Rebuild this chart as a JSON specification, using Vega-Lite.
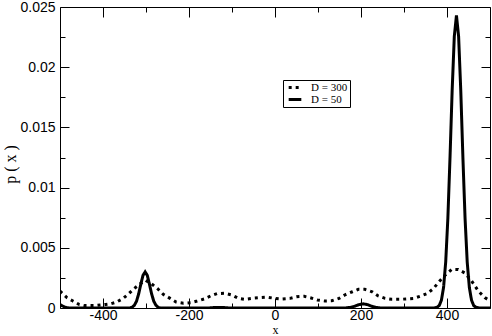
{
  "$schema": "https://vega.github.io/schema/vega-lite/v6.json",
  "width": 430,
  "height": 301,
  "autosize": {"type": "none"},
  "padding": {"left": 60, "top": 7, "right": 2, "bottom": 28},
  "background": "white",
  "config": {
    "view": {"stroke": null},
    "axis": {
      "domainColor": "black", "tickColor": "black", "labelColor": "black", "titleColor": "black",
      "grid": false, "labelFont": "Liberation Sans", "labelFontSize": 14,
      "titleFont": "Liberation Serif", "titleFontSize": 16, "titleFontWeight": "normal",
      "tickWidth": 1, "domainWidth": 1
    }
  },
  "datasets": {
    "curves": [
      {"x": -500, "p": 0.0014, "D": "D = 300"},
      {"x": -484, "p": 0.00086, "D": "D = 300"},
      {"x": -471, "p": 0.0006, "D": "D = 300"},
      {"x": -456, "p": 0.0003, "D": "D = 300"},
      {"x": -443, "p": 0.0002, "D": "D = 300"},
      {"x": -430, "p": 0.0002, "D": "D = 300"},
      {"x": -418, "p": 0.0002, "D": "D = 300"},
      {"x": -406, "p": 0.00025, "D": "D = 300"},
      {"x": -394, "p": 0.0003, "D": "D = 300"},
      {"x": -381, "p": 0.00036, "D": "D = 300"},
      {"x": -368, "p": 0.0005, "D": "D = 300"},
      {"x": -353, "p": 0.0008, "D": "D = 300"},
      {"x": -341, "p": 0.00116, "D": "D = 300"},
      {"x": -328, "p": 0.0016, "D": "D = 300"},
      {"x": -314, "p": 0.002, "D": "D = 300"},
      {"x": -301, "p": 0.0023, "D": "D = 300"},
      {"x": -287, "p": 0.002, "D": "D = 300"},
      {"x": -273, "p": 0.0016, "D": "D = 300"},
      {"x": -260, "p": 0.00114, "D": "D = 300"},
      {"x": -244, "p": 0.0008, "D": "D = 300"},
      {"x": -230, "p": 0.0005, "D": "D = 300"},
      {"x": -213, "p": 0.0004, "D": "D = 300"},
      {"x": -196, "p": 0.00044, "D": "D = 300"},
      {"x": -181, "p": 0.00058, "D": "D = 300"},
      {"x": -165, "p": 0.00075, "D": "D = 300"},
      {"x": -150, "p": 0.001, "D": "D = 300"},
      {"x": -134, "p": 0.0012, "D": "D = 300"},
      {"x": -116, "p": 0.00122, "D": "D = 300"},
      {"x": -101, "p": 0.00108, "D": "D = 300"},
      {"x": -85, "p": 0.0008, "D": "D = 300"},
      {"x": -70, "p": 0.00072, "D": "D = 300"},
      {"x": -54, "p": 0.0008, "D": "D = 300"},
      {"x": -35, "p": 0.00086, "D": "D = 300"},
      {"x": -18, "p": 0.0009, "D": "D = 300"},
      {"x": 0, "p": 0.0008, "D": "D = 300"},
      {"x": 16, "p": 0.00075, "D": "D = 300"},
      {"x": 35, "p": 0.0008, "D": "D = 300"},
      {"x": 50, "p": 0.00094, "D": "D = 300"},
      {"x": 68, "p": 0.00097, "D": "D = 300"},
      {"x": 84, "p": 0.00083, "D": "D = 300"},
      {"x": 99, "p": 0.00066, "D": "D = 300"},
      {"x": 116, "p": 0.00058, "D": "D = 300"},
      {"x": 132, "p": 0.0006, "D": "D = 300"},
      {"x": 149, "p": 0.0008, "D": "D = 300"},
      {"x": 163, "p": 0.0011, "D": "D = 300"},
      {"x": 180, "p": 0.00135, "D": "D = 300"},
      {"x": 194, "p": 0.00155, "D": "D = 300"},
      {"x": 209, "p": 0.00155, "D": "D = 300"},
      {"x": 226, "p": 0.00135, "D": "D = 300"},
      {"x": 240, "p": 0.001, "D": "D = 300"},
      {"x": 256, "p": 0.0008, "D": "D = 300"},
      {"x": 271, "p": 0.00072, "D": "D = 300"},
      {"x": 289, "p": 0.00072, "D": "D = 300"},
      {"x": 305, "p": 0.00075, "D": "D = 300"},
      {"x": 322, "p": 0.0008, "D": "D = 300"},
      {"x": 337, "p": 0.00097, "D": "D = 300"},
      {"x": 354, "p": 0.0012, "D": "D = 300"},
      {"x": 368, "p": 0.0016, "D": "D = 300"},
      {"x": 382, "p": 0.0022, "D": "D = 300"},
      {"x": 395, "p": 0.0027, "D": "D = 300"},
      {"x": 411, "p": 0.0032, "D": "D = 300"},
      {"x": 426, "p": 0.0032, "D": "D = 300"},
      {"x": 442, "p": 0.0029, "D": "D = 300"},
      {"x": 458, "p": 0.0022, "D": "D = 300"},
      {"x": 473, "p": 0.0014, "D": "D = 300"},
      {"x": 488, "p": 0.00086, "D": "D = 300"},
      {"x": 500, "p": 0.0006, "D": "D = 300"},
      {"x": -500, "p": 0.0003, "D": "D = 50"},
      {"x": -495, "p": 0.00018, "D": "D = 50"},
      {"x": -490, "p": 0.0001, "D": "D = 50"},
      {"x": -485, "p": 0.00004, "D": "D = 50"},
      {"x": -480, "p": 0.00001, "D": "D = 50"},
      {"x": -460, "p": 0, "D": "D = 50"},
      {"x": -342, "p": 0, "D": "D = 50"},
      {"x": -337, "p": 0.00001, "D": "D = 50"},
      {"x": -332, "p": 0.00007, "D": "D = 50"},
      {"x": -327, "p": 0.00023, "D": "D = 50"},
      {"x": -322, "p": 0.00057, "D": "D = 50"},
      {"x": -317, "p": 0.00118, "D": "D = 50"},
      {"x": -312, "p": 0.00198, "D": "D = 50"},
      {"x": -307, "p": 0.00271, "D": "D = 50"},
      {"x": -302, "p": 0.003, "D": "D = 50"},
      {"x": -297, "p": 0.00271, "D": "D = 50"},
      {"x": -292, "p": 0.00198, "D": "D = 50"},
      {"x": -287, "p": 0.00118, "D": "D = 50"},
      {"x": -282, "p": 0.00057, "D": "D = 50"},
      {"x": -277, "p": 0.00023, "D": "D = 50"},
      {"x": -272, "p": 0.00007, "D": "D = 50"},
      {"x": -267, "p": 0.00001, "D": "D = 50"},
      {"x": -260, "p": 0, "D": "D = 50"},
      {"x": -155, "p": 0, "D": "D = 50"},
      {"x": -145, "p": 0.00003, "D": "D = 50"},
      {"x": -130, "p": 0.00005, "D": "D = 50"},
      {"x": -115, "p": 0.00003, "D": "D = 50"},
      {"x": -105, "p": 0, "D": "D = 50"},
      {"x": 160, "p": 0, "D": "D = 50"},
      {"x": 165, "p": 0.00001, "D": "D = 50"},
      {"x": 175, "p": 0.00005, "D": "D = 50"},
      {"x": 185, "p": 0.00014, "D": "D = 50"},
      {"x": 195, "p": 0.00028, "D": "D = 50"},
      {"x": 205, "p": 0.00035, "D": "D = 50"},
      {"x": 215, "p": 0.00028, "D": "D = 50"},
      {"x": 225, "p": 0.00014, "D": "D = 50"},
      {"x": 235, "p": 0.00005, "D": "D = 50"},
      {"x": 245, "p": 0.00001, "D": "D = 50"},
      {"x": 255, "p": 0, "D": "D = 50"},
      {"x": 370, "p": 0, "D": "D = 50"},
      {"x": 377, "p": 0.00006, "D": "D = 50"},
      {"x": 382, "p": 0.00021, "D": "D = 50"},
      {"x": 387, "p": 0.00065, "D": "D = 50"},
      {"x": 392, "p": 0.0017, "D": "D = 50"},
      {"x": 397, "p": 0.00382, "D": "D = 50"},
      {"x": 402, "p": 0.00745, "D": "D = 50"},
      {"x": 407, "p": 0.01249, "D": "D = 50"},
      {"x": 412, "p": 0.01808, "D": "D = 50"},
      {"x": 417, "p": 0.02257, "D": "D = 50"},
      {"x": 422, "p": 0.0243, "D": "D = 50"},
      {"x": 427, "p": 0.02257, "D": "D = 50"},
      {"x": 432, "p": 0.01808, "D": "D = 50"},
      {"x": 437, "p": 0.01249, "D": "D = 50"},
      {"x": 442, "p": 0.00745, "D": "D = 50"},
      {"x": 447, "p": 0.00382, "D": "D = 50"},
      {"x": 452, "p": 0.0017, "D": "D = 50"},
      {"x": 457, "p": 0.00065, "D": "D = 50"},
      {"x": 462, "p": 0.00021, "D": "D = 50"},
      {"x": 467, "p": 0.00006, "D": "D = 50"},
      {"x": 475, "p": 0.00001, "D": "D = 50"},
      {"x": 485, "p": 0, "D": "D = 50"},
      {"x": 500, "p": 0, "D": "D = 50"}
    ]
  },
  "data": {"name": "curves"},
  "layer": [
    {
      "mark": {"type": "line", "color": "black", "strokeWidth": 3, "strokeCap": "butt", "clip": true},
      "encoding": {
        "x": {"field": "x", "type": "quantitative", "scale": {"domain": [-500, 500], "nice": false, "zero": false},
              "axis": {"orient": "bottom", "title": "x", "values": [-400, -200, 0, 200, 400], "tickSize": -10, "labelPadding": 10, "labelExpr": "'' + datum.value", "titleFontSize": 12, "titleBaseline": "top", "titleY": 16}},
        "y": {"field": "p", "type": "quantitative", "scale": {"domain": [0, 0.025], "nice": false},
              "axis": {"orient": "left", "title": "p ( x )", "values": [0, 0.005, 0.01, 0.015, 0.02, 0.025], "tickSize": -9, "labelPadding": 14, "labelExpr": "format(datum.value, '~g')", "titleX": -50, "titleY": 157, "titleAngle": -90, "titleAlign": "center", "titleBaseline": "middle"}},
        "strokeDash": {"field": "D", "type": "nominal",
                       "scale": {"domain": ["D = 300", "D = 50"], "range": [[3, 4], [1, 0]]},
                       "legend": {"orient": "none", "legendX": 223, "legendY": 73, "title": null, "strokeColor": "black", "padding": 2,
                                  "labelFont": "Liberation Serif", "labelFontSize": 11, "labelColor": "black", "symbolType": "stroke",
                                  "symbolStrokeWidth": 3, "symbolSize": 160, "symbolStrokeColor": "black", "rowPadding": 0, "labelOffset": 8, "symbolOffset": 2, "clipHeight": 11}}
      }
    },
    {
      "mark": {"type": "line", "strokeOpacity": 0},
      "encoding": {
        "x": {"field": "x", "type": "quantitative", "axis": {"orient": "top", "title": null, "labels": false, "values": [-400, -200, 0, 200, 400], "tickSize": -10}},
        "y": {"field": "p", "type": "quantitative", "axis": {"orient": "right", "title": null, "labels": false, "values": [0, 0.005, 0.01, 0.015, 0.02, 0.025], "tickSize": -9}}
      }
    },
    {
      "mark": {"type": "line", "strokeOpacity": 0},
      "encoding": {
        "x": {"field": "x", "type": "quantitative", "axis": {"orient": "bottom", "title": null, "labels": false, "domain": false, "values": [-300, -100, 100, 300], "tickSize": -5}},
        "y": {"field": "p", "type": "quantitative", "axis": {"orient": "left", "title": null, "labels": false, "domain": false, "values": [0.0025, 0.0075, 0.0125, 0.0175, 0.0225], "tickSize": -5}}
      }
    },
    {
      "mark": {"type": "line", "strokeOpacity": 0},
      "encoding": {
        "x": {"field": "x", "type": "quantitative", "axis": {"orient": "top", "title": null, "labels": false, "domain": false, "values": [-300, -100, 100, 300], "tickSize": -5}},
        "y": {"field": "p", "type": "quantitative", "axis": {"orient": "right", "title": null, "labels": false, "domain": false, "values": [0.0025, 0.0075, 0.0125, 0.0175, 0.0225], "tickSize": -5}}
      }
    }
  ],
  "resolve": {"axis": {"x": "independent", "y": "independent"}}
}
